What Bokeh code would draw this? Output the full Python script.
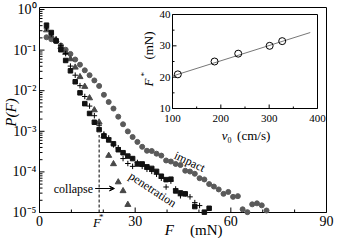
import math
from bokeh.plotting import figure
from bokeh.models import (Range1d, LinearScale, Label, Arrow, VeeHead, Whisker, TeeHead,
                          ColumnDataSource)
from bokeh.embed import file_html
from bokeh.resources import INLINE

FONT = "Liberation Serif"

# ---------------- main panel data ----------------
impact_F = [2.2, 3.7, 5.2, 6.7, 8.2, 9.7, 11.2, 12.7, 14.2, 15.7, 17.2, 18.7, 20.2, 21.7,
            23.2, 24.7, 26.2, 27.7, 29.2, 30.7, 32.2, 33.7, 35.2, 36.7, 38.2, 39.7, 41.2,
            42.7, 44.2, 45.7, 47.2, 48.7, 50.2, 51.7, 53.2, 54.7, 56.2, 57.7, 59.2, 60.7,
            62.2, 63.7, 65.2, 66.7, 68.2, 69.7, 71.2]
impact_P = [0.207, 0.185, 0.166, 0.130, 0.102, 0.0805, 0.0586, 0.0437, 0.0318, 0.0241,
            0.0179, 0.0131, 0.00792, 0.00527, 0.00363, 0.00229, 0.00149, 0.000995,
            0.000724, 0.000548, 0.000415, 0.000332, 0.000327, 0.000281, 0.000252,
            0.000191, 0.000180, 0.000157, 0.000148, 0.000107, 0.000102, 8.99e-5, 7.00e-5,
            6.52e-5, 5.01e-5, 4.36e-5, 3.70e-5, 2.88e-5, 3.21e-5, 2.43e-5, 2.53e-5,
            1.20e-5, 1.02e-5, 1.59e-5, 1.68e-5, 1.50e-5, 1.12e-5]

square_F = [2.2, 3.7, 5.2, 6.7, 8.2, 9.7, 11.2, 12.7, 14.2, 15.7, 17.2, 18.7, 20.2, 21.7,
            23.2, 24.7, 26.2, 27.7, 29.2, 30.7, 32.2, 33.7, 35.2, 36.7, 38.2, 39.7, 41.2,
            42.7, 44.2, 45.7, 48.7, 51.7, 53.2]
square_P = [0.411, 0.271, 0.169, 0.102, 0.0555, 0.0309, 0.0166, 0.00885, 0.00480, 0.00275,
            0.00167, 0.00110, 0.000765, 0.000613, 0.000491, 0.000352, 0.000297, 0.000245,
            0.000213, 0.000157, 0.000157, 0.000133, 0.000122, 0.000103, 7.83e-5, 6.45e-5,
            6.62e-5, 3.40e-5, 3.04e-5, 2.88e-5, 1.40e-5, 1.02e-5, 1.27e-5]

plus_F = [2.2, 3.7, 5.2, 6.7, 8.2, 9.7, 11.2, 12.7, 14.2, 15.7, 17.2, 18.7, 20.2, 21.7,
          23.2, 24.7, 26.2, 27.7, 29.2, 30.7, 32.2, 33.7, 35.2, 36.7, 38.2, 39.7, 41.2,
          42.7, 44.2, 45.7, 47.2, 48.7, 50.2]
plus_P = [0.348, 0.249, 0.185, 0.128, 0.0818, 0.0404, 0.0241, 0.0133, 0.00720, 0.00418,
          0.00242, 0.00141, 0.000855, 0.000685, 0.000465, 0.000393, 0.000213, 0.000161,
          0.000137, 0.000171, 0.000137, 0.000116, 0.000103, 8.75e-5, 7.00e-5, 4.25e-5,
          5.93e-5, 3.80e-5, 2.58e-5, 2.88e-5, 2.43e-5, 1.75e-5, 1.48e-5]

collapse_F = [2.2, 3.7, 5.2, 6.7, 8.2, 9.7, 11.2, 12.7, 14.2, 15.7, 17.2, 18.7, 20.2,
              21.7, 23.2, 24.7, 26.2, 27.7]
collapse_P = [0.311, 0.223, 0.178, 0.121, 0.0865, 0.0603, 0.0376, 0.0219, 0.0126, 0.00659,
              0.00334, 0.00167, 0.000765, 0.000252, 0.000157, 5.61e-5, 3.40e-5, 1.56e-5]

F_star = 18.7
F_star_line_P = [1e-5, 8.1e-4]

x_lim = [0, 90]
y_lim = [1e-5, 1.12]
x_ticks = [0, 30, 60, 90]
x_tick_labels = ["0", "30", "60", "90"]
x_minor_ticks = [10, 20, 40, 50, 70, 80]
y_ticks = [1e-5, 1e-4, 1e-3, 1e-2, 1e-1, 1.0]
y_tick_labels = ["10\u207b\u2075", "10\u207b\u2074", "10\u207b\u00b3", "10\u207b\u00b2",
                 "10\u207b\u00b9", "10\u2070"]

# ---------------- inset data ----------------
inset_v0 = [111, 187, 236, 301, 327]
inset_Fstar = [20.9, 25.0, 27.5, 30.0, 31.5]
inset_err = [2.4, 2.1, 3.1, 3.0, 2.7]
fit_v0 = [100, 385]
fit_Fstar = [20.35, 34.25]
inset_x_ticks = [100, 200, 300, 400]
inset_x_minor = [150, 250, 350]
inset_y_ticks = [10, 20, 30, 40]
inset_y_minor = [15, 25, 35]

# ---------------- figure: the frame covers the whole canvas ----------------
W, H = 335, 238
BOX_L, BOX_R, BOX_T, BOX_B = 39, 326, 7, 212          # main panel box, px
xpx = (BOX_R - BOX_L) / (x_lim[1] - x_lim[0])          # px per mN
lo, hi = math.log10(y_lim[0]), math.log10(y_lim[1])
ypx = (BOX_B - BOX_T) / (hi - lo)                      # px per decade
x_range = Range1d(x_lim[0] - BOX_L / xpx, x_lim[1] + (W - BOX_R) / xpx)
y_range = Range1d(10 ** (lo - (H - BOX_B) / ypx), 10 ** (hi + BOX_T / ypx))

p = figure(width=W, height=H, x_range=x_range, y_range=y_range, y_axis_type="log",
           output_backend="svg", toolbar_location=None, x_axis_location=None,
           y_axis_location=None, min_border=0)
p.grid.visible = False
p.outline_line_color = None
p.background_fill_color = "white"
p.border_fill_color = "white"

def dy(px):   # multiplicative factor for a vertical pixel offset (up positive)
    return 10 ** (px / ypx)

# main box, ticks, tick labels
p.quad(left=[x_lim[0]], right=[x_lim[1]], bottom=[y_lim[0]], top=[y_lim[1]],
       fill_color=None, line_color="black", line_width=1)
y_minor = [m * t for t in y_ticks[:-1] for m in range(2, 10)]
p.segment(x0=x_ticks, y0=[y_lim[0]] * len(x_ticks), x1=x_ticks,
          y1=[y_lim[0] * dy(5)] * len(x_ticks), line_color="black")
p.segment(x0=x_minor_ticks, y0=[y_lim[0]] * len(x_minor_ticks), x1=x_minor_ticks,
          y1=[y_lim[0] * dy(3)] * len(x_minor_ticks), line_color="black")
p.segment(x0=[x_lim[0]] * len(y_ticks), y0=y_ticks, x1=[x_lim[0] + 5 / xpx] * len(y_ticks),
          y1=y_ticks, line_color="black")
p.segment(x0=[x_lim[0]] * len(y_minor), y0=y_minor, x1=[x_lim[0] + 3 / xpx] * len(y_minor),
          y1=y_minor, line_color="black")
p.text(x=x_ticks, y=[y_lim[0] / dy(3)] * len(x_ticks), text=x_tick_labels,
       text_font={"value": FONT}, text_font_size="14px", text_align="center",
       text_baseline="top", text_color="black")
p.text(x=[x_lim[0] - 3 / xpx] * len(y_ticks), y=y_ticks, text=y_tick_labels,
       text_font={"value": FONT}, text_font_size="14px", text_align="right",
       text_baseline="middle", text_color="black")

# main series
p.scatter(impact_F, impact_P, marker="circle", size=5, fill_color="#5a5a5a", line_color="#5a5a5a")
p.scatter(collapse_F, collapse_P, marker="triangle", size=6, fill_color="#474747", line_color="#474747")
p.scatter(plus_F, plus_P, marker="cross", size=5.5, line_color="black", line_width=1)
p.scatter(square_F, square_P, marker="square", size=4.5, fill_color="#111111", line_color="#111111")

p.line([F_star, F_star], F_star_line_P, line_color="black", line_width=1, line_dash="3 2")

def lbl(text, x, y, size, style="normal", angle=0.0, align="center", baseline="middle",
        rx="default", ry="default"):
    p.add_layout(Label(x=x, y=y, text=text, text_font=FONT, text_font_size=size,
                       text_font_style=style, angle=angle, text_align=align,
                       text_baseline=baseline, text_color="black",
                       x_range_name=rx, y_range_name=ry))

# axis titles (main)
lbl("P(F)", -8.9, 2.9e-3, "15px", style="italic", angle=math.pi / 2)
lbl("F", 40.7, 3.81e-6, "15px", style="italic")
lbl("(mN)", 52.3, 3.81e-6, "15px")
lbl("F", 18.06, 5.66e-6, "13px", style="italic")
lbl("*", 19.4, 7.96e-6, "9px")

# annotations
lbl("impact", 47.1, 1.8e-4, "12px", angle=-0.44)
lbl("penetration", 35.5, 3.68e-5, "12px", angle=-0.58)
lbl("collapse", 16.8, 3.9e-5, "12px", align="right")
p.add_layout(Arrow(x_start=17.45, y_start=3.9e-5, x_end=23.5, y_end=3.9e-5,
                   line_color="black", line_width=1,
                   end=VeeHead(size=5, fill_color="black", line_color="black")))

# ---------------- inset (same canvas, own linear ranges) ----------------
IN_L, IN_R, IN_T, IN_B = 172, 317, 14, 108             # inset box, px
ixpx = (IN_R - IN_L) / (inset_x_ticks[-1] - inset_x_ticks[0])
iypx = (IN_B - IN_T) / (inset_y_ticks[-1] - inset_y_ticks[0])
p.extra_x_ranges = {"inset": Range1d(inset_x_ticks[0] - IN_L / ixpx,
                                     inset_x_ticks[-1] + (W - IN_R) / ixpx)}
p.extra_y_ranges = {"inset": Range1d(inset_y_ticks[0] - (H - IN_B) / iypx,
                                     inset_y_ticks[-1] + IN_T / iypx)}
p.extra_x_scales = {"inset": LinearScale()}
p.extra_y_scales = {"inset": LinearScale()}
I = dict(x_range_name="inset", y_range_name="inset")

p.quad(left=[inset_x_ticks[0]], right=[inset_x_ticks[-1]], bottom=[inset_y_ticks[0]],
       top=[inset_y_ticks[-1]], fill_color="white", line_color="black", line_width=1, **I)
y0 = inset_y_ticks[0]
x0 = inset_x_ticks[0]
p.segment(x0=inset_x_ticks, y0=[y0] * 4, x1=inset_x_ticks, y1=[y0 + 4 / iypx] * 4, line_color="black", **I)
p.segment(x0=inset_x_minor, y0=[y0] * 3, x1=inset_x_minor, y1=[y0 + 2 / iypx] * 3, line_color="black", **I)
p.segment(x0=[x0] * 4, y0=inset_y_ticks, x1=[x0 + 4 / ixpx] * 4, y1=inset_y_ticks, line_color="black", **I)
p.segment(x0=[x0] * 3, y0=inset_y_minor, x1=[x0 + 2 / ixpx] * 3, y1=inset_y_minor, line_color="black", **I)
p.text(x=inset_x_ticks, y=[y0 - 10 / iypx] * 4, text=[str(t) for t in inset_x_ticks],
       text_font_size="11px", text_align="center", text_baseline="middle",
       text_color="black", text_font={"value": FONT}, **I)
p.text(x=[x0 - 2 / ixpx] * 4, y=inset_y_ticks, text=[str(t) for t in inset_y_ticks],
       text_font_size="11px", text_align="right", text_baseline="middle",
       text_color="black", text_font={"value": FONT}, **I)

p.line(fit_v0, fit_Fstar, line_color="#777777", line_width=1, **I)
src = ColumnDataSource(dict(base=inset_v0,
                            lower=[f - e for f, e in zip(inset_Fstar, inset_err)],
                            upper=[f + e for f, e in zip(inset_Fstar, inset_err)]))
p.add_layout(Whisker(source=src, base="base", lower="lower", upper="upper", dimension="height",
                     line_color="black", line_width=1,
                     upper_head=TeeHead(size=7, line_color="black", line_width=1),
                     lower_head=TeeHead(size=7, line_color="black", line_width=1), **I))
p.scatter(inset_v0, inset_Fstar, marker="circle", size=7, fill_color=None,
          line_color="black", line_width=1, **I)

lbl("v", 208, 1.5, "13px", style="italic", rx="inset", ry="inset")
lbl("0", 218, -0.1, "8px", rx="inset", ry="inset")
lbl("(cm/s)", 268, 1.5, "13px", rx="inset", ry="inset")
lbl("F", 50, 18.3, "13px", style="italic", angle=math.pi / 2, rx="inset", ry="inset")
lbl("*", 42, 20.9, "9px", angle=math.pi / 2, rx="inset", ry="inset")
lbl("(mN)", 50, 30.1, "13px", angle=math.pi / 2, rx="inset", ry="inset")

open("out.html", "w").write(file_html(p, INLINE))
